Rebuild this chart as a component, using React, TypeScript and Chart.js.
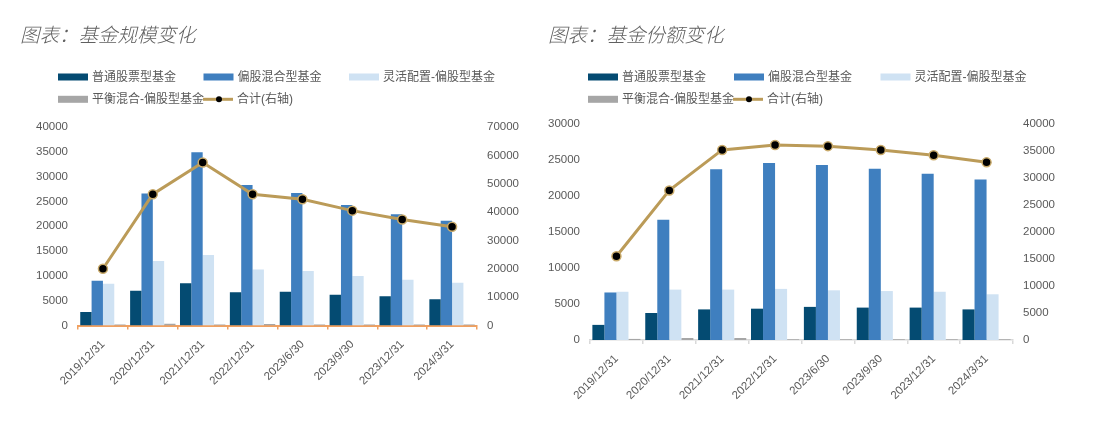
import React, { useEffect, useRef } from 'react';
import { Chart, registerables } from 'chart.js';

Chart.register(...registerables);

const categories = ['2019/12/31', '2020/12/31', '2021/12/31', '2022/12/31', '2023/6/30', '2023/9/30', '2023/12/31', '2024/3/31'];
const seriesNames = ['普通股票型基金', '偏股混合型基金', '灵活配置-偏股型基金', '平衡混合-偏股型基金', '合计(右轴)'];

// 基金规模
const scaleStock = [2700, 7000, 8500, 6700, 6800, 6200, 5900, 5300];
const scaleMixed = [9000, 26600, 34900, 28300, 26700, 24300, 22400, 21100];
const scaleFlex = [8400, 13000, 14200, 11300, 11000, 10000, 9200, 8600];
const scaleBalanced = [200, 350, 200, 300, 200, 200, 200, 200];
const scaleTotal = [20000, 46300, 57500, 46300, 44500, 40500, 37400, 34800];

// 基金份额
const shareStock = [2100, 3750, 4250, 4350, 4600, 4500, 4500, 4250];
const shareMixed = [6600, 16700, 23700, 24600, 24300, 23800, 23100, 22300];
const shareFlex = [6700, 7000, 7000, 7100, 6900, 6800, 6700, 6350];
const shareBalanced = [150, 280, 280, 100, 100, 100, 100, 100];
const shareTotal = [15500, 27700, 35200, 36100, 35900, 35200, 34200, 32900];

const colors = ['#044b72', '#3f7fbf', '#cfe2f3', '#a6a6a6'];
const lineColor = '#bb9b58';
const textColor = '#595959';
const tickFont = { family: '"Liberation Sans", Arial, sans-serif', size: 11.5 };
const xTickFont = { family: '"Liberation Sans", Arial, sans-serif', size: 11.5 };

const headerPlugin = {
  id: 'header',
  afterDraw(chart: any, _args: any, opts: any) {
    const ctx = chart.ctx;
    ctx.save();
    ctx.fillStyle = '#606060';
    ctx.textBaseline = 'middle';
    ctx.textAlign = 'left';
    ctx.font = 'italic 300 19.5px "Noto Sans CJK SC", sans-serif';
    ctx.fillText(opts.title, opts.titleX, opts.titleY);
    ctx.font = '12px "Liberation Sans", "Noto Sans CJK SC", sans-serif';
    chart.data.datasets.forEach((ds: any, i: number) => {
      const slot = opts.slots[i];
      if (!slot) return;
      const cx = slot[0];
      const cy = slot[1];
      if (ds.type === 'line') {
        ctx.strokeStyle = ds.borderColor;
        ctx.lineWidth = 3;
        ctx.beginPath();
        ctx.moveTo(cx, cy);
        ctx.lineTo(cx + 30, cy);
        ctx.stroke();
        ctx.beginPath();
        ctx.fillStyle = '#000000';
        ctx.arc(cx + 16, cy, 3, 0, Math.PI * 2);
        ctx.fill();
      } else {
        ctx.fillStyle = ds.backgroundColor;
        ctx.fillRect(cx, cy - 3.5, 30, 7);
      }
      ctx.fillStyle = textColor;
      ctx.fillText(ds.label, cx + 34, cy + 0.5);
    });
    ctx.restore();
  },
};

function makeConfig(p: any) {
  const bar = (label: string, data: number[], color: string) => ({
    type: 'bar',
    label,
    data,
    backgroundColor: color,
    borderWidth: 0,
    yAxisID: 'y',
    order: 1,
    categoryPercentage: 0.91,
    barPercentage: 1,
  });
  const plain = (v: any) => String(v);
  return {
    type: 'bar',
    data: {
      labels: categories,
      datasets: [
        bar(seriesNames[0], p.stock, colors[0]),
        bar(seriesNames[1], p.mixed, colors[1]),
        bar(seriesNames[2], p.flex, colors[2]),
        bar(seriesNames[3], p.balanced, colors[3]),
        {
          type: 'line',
          label: seriesNames[4],
          data: p.total,
          borderColor: lineColor,
          borderWidth: 3,
          pointBackgroundColor: '#000000',
          pointBorderColor: '#c9aa6a',
          pointBorderWidth: 1.5,
          pointRadius: 4.5,
          tension: 0,
          yAxisID: 'y1',
          order: 0,
        },
      ],
    },
    options: {
      responsive: false,
      animation: false,
      layout: { padding: { top: p.top, left: 0, right: 0, bottom: 0 } },
      plugins: {
        legend: { display: false },
        title: { display: false },
        tooltip: { enabled: false },
        header: { title: p.title, titleX: p.titleX, titleY: 35, slots: p.slots },
      },
      scales: {
        x: {
          grid: { display: true, drawOnChartArea: false, drawTicks: true, tickLength: 4, color: p.axisColor, lineWidth: 1.5, offset: true },
          border: { display: true, color: p.axisColor, width: p.axisWidth },
          ticks: { autoSkip: false, maxRotation: 45, minRotation: 45, padding: 8, font: xTickFont, color: textColor },
          afterFit: (s: any) => { s.height = p.xHeight; },
        },
        y: {
          position: 'left',
          min: 0,
          max: p.yMax,
          ticks: { stepSize: p.yStep, padding: 10, font: tickFont, color: textColor, callback: plain },
          grid: { display: false, drawTicks: false },
          border: { display: false },
          afterFit: (s: any) => { s.width = p.yWidth; },
        },
        y1: {
          position: 'right',
          min: 0,
          max: p.y1Max,
          ticks: { stepSize: p.y1Step, padding: 10, font: tickFont, color: textColor, callback: plain },
          grid: { display: false, drawTicks: false },
          border: { display: false },
          afterFit: (s: any) => { s.width = p.y1Width; },
        },
      },
    },
    plugins: [headerPlugin],
  };
}

function ChartCanvas(props: { cfg: any; width: number; left: number }) {
  const ref = useRef<HTMLCanvasElement | null>(null);
  useEffect(() => {
    if (!ref.current) return;
    const chart = new Chart(ref.current, props.cfg);
    return () => chart.destroy();
  }, []);
  return (
    <canvas
      ref={ref}
      width={props.width}
      height={421}
      style={{ position: 'absolute', left: props.left, top: 0, width: props.width, height: 421 }}
    />
  );
}

export default function App() {
  const leftCfg = makeConfig({
    title: '图表：基金规模变化',
    titleX: 20,
    slots: [[58, 77], [203.5, 77], [349, 77], [58, 99.3], [203, 99.3]],
    stock: scaleStock,
    mixed: scaleMixed,
    flex: scaleFlex,
    balanced: scaleBalanced,
    total: scaleTotal,
    top: 127,
    xHeight: 95.5,
    yWidth: 78,
    y1Width: 63,
    yMax: 40000,
    yStep: 5000,
    y1Max: 70000,
    y1Step: 10000,
    axisColor: '#f0a060',
    axisWidth: 2,
  });
  const rightCfg = makeConfig({
    title: '图表：基金份额变化',
    titleX: 8,
    slots: [[48, 77], [194, 77], [340.5, 77], [48, 99.3], [193, 99.3]],
    stock: shareStock,
    mixed: shareMixed,
    flex: shareFlex,
    balanced: shareBalanced,
    total: shareTotal,
    top: 124,
    xHeight: 81,
    yWidth: 50,
    y1Width: 90,
    yMax: 30000,
    yStep: 5000,
    y1Max: 40000,
    y1Step: 5000,
    axisColor: '#d9d9d9',
    axisWidth: 1.5,
  });
  return (
    <div style={{ position: 'fixed', left: 0, top: 0, width: 1103, height: 421, background: '#ffffff' }}>
      <ChartCanvas cfg={leftCfg} width={540} left={0} />
      <ChartCanvas cfg={rightCfg} width={563} left={540} />
    </div>
  );
}
